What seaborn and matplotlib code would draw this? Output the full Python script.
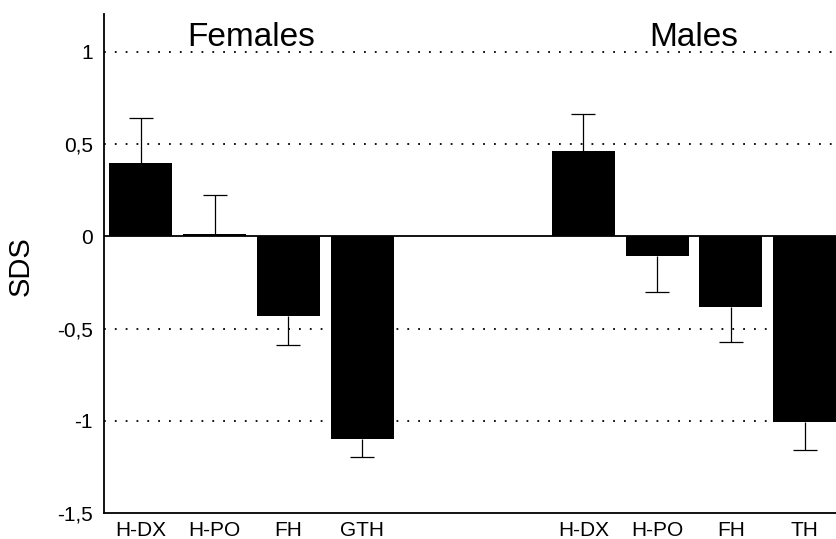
import numpy as np
import pandas as pd
import matplotlib
matplotlib.use('Agg')
import matplotlib.pyplot as plt
import seaborn as sns

# Values (SDS means and one-sided error)
female_labels = ['H-DX', 'H-PO', 'FH', 'GTH']
female_sds = [0.40, 0.015, -0.43, -1.10]
female_err = [0.24, 0.21, 0.16, 0.095]

male_labels = ['H-DX', 'H-PO', 'FH', 'TH']
male_sds = [0.465, -0.105, -0.385, -1.005]
male_err = [0.20, 0.195, 0.19, 0.155]

yticks = [-1.5, -1, -0.5, 0, 0.5, 1]
ytick_labels = ['-1,5', '-1', '-0,5', '0', '0,5', '1']

# Build table, two empty slots between the groups
keys_f = ['F ' + s for s in female_labels]
keys_m = ['M ' + s for s in male_labels]
order = keys_f + ['gap1', 'gap2'] + keys_m
df = pd.DataFrame({
    'key': keys_f + keys_m,
    'sds': female_sds + male_sds,
    'err': female_err + male_err,
})

sns.set_theme(style='white')
plt.rcParams['font.family'] = ['Liberation Sans', 'DejaVu Sans']
plt.rcParams.update({'text.color': 'black', 'axes.labelcolor': 'black',
                     'xtick.color': 'black', 'ytick.color': 'black'})

fig = plt.figure(figsize=(8.37, 5.39), dpi=100)
ax = fig.add_axes([0.1243, 0.0482, 0.8757, 0.9258])

sns.barplot(data=df, x='key', y='sds', order=order, color='black',
            saturation=1, width=0.855, edgecolor='black', linewidth=0,
            errorbar=None, ax=ax, zorder=3)

# One-sided error bars pointing away from zero, cap only at the far end
pos = [order.index(k) for k in df['key']]
vals = df['sds'].to_numpy()
errs = df['err'].to_numpy()
sign = np.where(vals < 0, -1, 1)
ends = vals + sign * errs
ax.vlines(pos, vals, ends, color='black', lw=0.9, zorder=2)
ax.plot(pos, ends, linestyle='none', marker='_', markersize=16.6,
        mew=0.9, color='black', zorder=2)

ax.axhline(0, color='black', lw=1.3, zorder=4)
for y in [1, 0.5, -0.5, -1]:
    ax.axhline(y, color='black', lw=1.3, linestyle=(0, (1, 5)), zorder=1)

ax.set_xlim(-0.5, 9.44)
ax.set_ylim(-1.5, 1.205)
ax.set_yticks(yticks)
ax.set_yticklabels(ytick_labels, fontsize=15)
ax.set_xticks(range(len(order)))
ax.set_xticklabels(female_labels + ['', ''] + male_labels, fontsize=15)
ax.tick_params(axis='both', length=0)
ax.tick_params(axis='y', pad=8)
ax.tick_params(axis='x', pad=6)

ax.set_xlabel('')
ax.set_ylabel('SDS', fontsize=21)
ax.yaxis.set_label_coords(-0.094, 0.495)

for side in ['top', 'right']:
    ax.spines[side].set_visible(False)
for side in ['left', 'bottom']:
    ax.spines[side].set_color('black')
    ax.spines[side].set_linewidth(1.3)

ax.text(1.5, 1.03, 'Females', ha='center', va='baseline', fontsize=24)
ax.text(7.5, 1.03, 'Males', ha='center', va='baseline', fontsize=24)

fig.savefig('out.png', dpi=100)
